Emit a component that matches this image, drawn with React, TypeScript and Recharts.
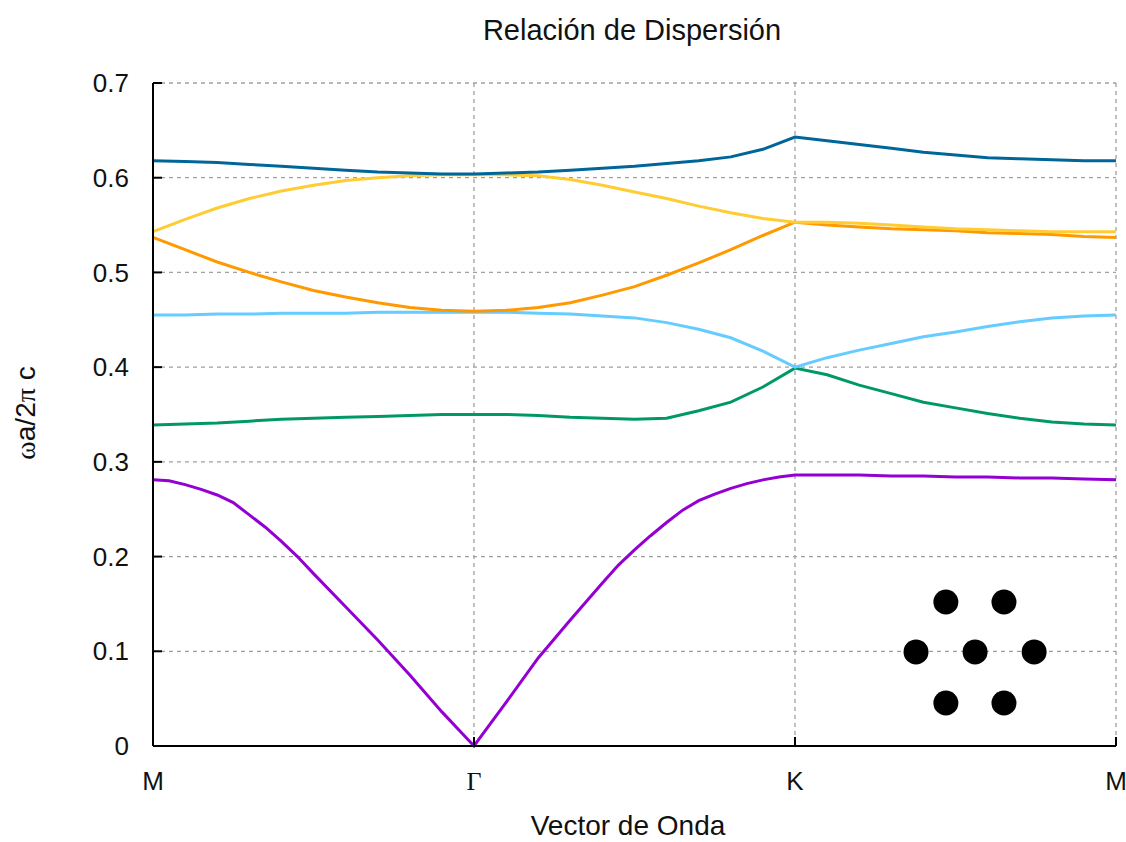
import {
  ComposedChart, Line, Scatter, XAxis, YAxis, CartesianGrid,
} from 'recharts'

// k-path M → Γ → K → M, each segment split in 10 steps
const kPath = [
  0, 0.1, 0.2, 0.3, 0.4, 0.5, 0.6, 0.7, 0.8, 0.9,
  1, 1.1, 1.2, 1.3, 1.4, 1.5, 1.6, 1.7, 1.8, 1.9,
  2, 2.1, 2.2, 2.3, 2.4, 2.5, 2.6, 2.7, 2.8, 2.9, 3,
]

// lowest band has more curvature -> finer sampling
const kPathBand1 = [
  0, 0.05, 0.1, 0.15, 0.2, 0.25, 0.3, 0.35, 0.4, 0.45,
  0.5, 0.6, 0.7, 0.8, 0.9, 1,
  1.1, 1.2, 1.3, 1.4, 1.45, 1.5, 1.55, 1.6, 1.65, 1.7, 1.75, 1.8, 1.85, 1.9, 1.95, 2,
  2.1, 2.2, 2.3, 2.4, 2.5, 2.6, 2.7, 2.8, 2.9, 3,
]
const band1 = [
  0.281, 0.280, 0.276, 0.271, 0.265, 0.257, 0.244, 0.231, 0.216, 0.200,
  0.182, 0.147, 0.112, 0.075, 0.036, 0.000,
  0.046, 0.093, 0.133, 0.172, 0.191, 0.207, 0.222, 0.236, 0.249, 0.259, 0.266, 0.272, 0.277, 0.281, 0.284, 0.286,
  0.286, 0.286, 0.285, 0.285, 0.284, 0.284, 0.283, 0.283, 0.282, 0.281,
]
const band2 = [
  0.339, 0.340, 0.341, 0.343, 0.345, 0.346, 0.347, 0.348, 0.349, 0.350,
  0.350, 0.350, 0.349, 0.347, 0.346, 0.345, 0.346, 0.354, 0.363, 0.379,
  0.399, 0.392, 0.381, 0.372, 0.363, 0.357, 0.351, 0.346, 0.342, 0.340, 0.339,
]
const band3 = [
  0.455, 0.455, 0.456, 0.456, 0.457, 0.457, 0.457, 0.458, 0.458, 0.458,
  0.458, 0.458, 0.457, 0.456, 0.454, 0.452, 0.447, 0.440, 0.431, 0.417,
  0.400, 0.410, 0.418, 0.425, 0.432, 0.437, 0.443, 0.448, 0.452, 0.454, 0.455,
]
const band4 = [
  0.537, 0.524, 0.511, 0.500, 0.490, 0.481, 0.474, 0.468, 0.463, 0.460,
  0.459, 0.460, 0.463, 0.468, 0.476, 0.485, 0.497, 0.510, 0.524, 0.539,
  0.553, 0.550, 0.548, 0.546, 0.545, 0.544, 0.542, 0.541, 0.540, 0.538, 0.537,
]
const band5 = [
  0.543, 0.556, 0.568, 0.578, 0.586, 0.592, 0.597, 0.600, 0.602, 0.603,
  0.603, 0.603, 0.602, 0.598, 0.592, 0.585, 0.578, 0.570, 0.563, 0.557,
  0.553, 0.553, 0.552, 0.550, 0.548, 0.546, 0.545, 0.544, 0.543, 0.543, 0.543,
]
const band6 = [
  0.618, 0.617, 0.616, 0.614, 0.612, 0.610, 0.608, 0.606, 0.605, 0.604,
  0.604, 0.605, 0.606, 0.608, 0.610, 0.612, 0.615, 0.618, 0.622, 0.630,
  0.643, 0.639, 0.635, 0.631, 0.627, 0.624, 0.621, 0.620, 0.619, 0.618, 0.618,
]

const xTicks = [0, 1, 2, 3]
const xTickLabels = ['M', 'Γ', 'K', 'M']
const yTicks = [0, 0.1, 0.2, 0.3, 0.4, 0.5, 0.6, 0.7]
const yTickLabels = ['0', '0.1', '0.2', '0.3', '0.4', '0.5', '0.6', '0.7']

// triangular lattice inset (in axis units)
const latticeDots = [
  { k: 2.47, w: 0.152 }, { k: 2.651, w: 0.152 },
  { k: 2.377, w: 0.0993 }, { k: 2.561, w: 0.0993 }, { k: 2.745, w: 0.0993 },
  { k: 2.47, w: 0.0454 }, { k: 2.651, w: 0.0454 },
]

const band1Color = '#9400d3'
const upperColors = ['#009966', '#66ccff', '#ff9900', '#ffcc33', '#006699']
const upperBands = [band2, band3, band4, band5, band6]

const band1Rows = kPathBand1.map((k, i) => ({ k, b1: band1[i] }))
const rows = kPath.map((k, i) => {
  const r: Record<string, number> = { k }
  upperBands.forEach((b, j) => { r['b' + (j + 2)] = b[i] })
  return r
})

const FONT = '"Liberation Sans", Arial, sans-serif'
const SERIF = '"Liberation Serif", "DejaVu Serif", serif'
const Y_MARGIN = 24
const X_MARGIN = 26

function LeftTick({ x, y, index }: any) {
  return (
    <g>
      <line x1={x + Y_MARGIN} x2={x + Y_MARGIN + 9} y1={y} y2={y} stroke="#000" strokeWidth={2} />
      <text x={x} y={y} dy="0.35em" textAnchor="end" fontSize={26} fontFamily={FONT} fill="#111">
        {yTickLabels[index]}
      </text>
    </g>
  )
}

function RightTick({ x, y }: any) {
  return <line x1={x - 9} x2={x} y1={y} y2={y} stroke="#000" strokeWidth={2} />
}

function BottomTick({ x, y, index }: any) {
  const label = xTickLabels[index]
  return (
    <g>
      <line x1={x} x2={x} y1={y - X_MARGIN - 9} y2={y - X_MARGIN} stroke="#000" strokeWidth={2} />
      <text x={x} y={y} dy="0.71em" textAnchor="middle" fontSize={26}
        fontFamily={label === 'Γ' ? SERIF : FONT} fill="#111">
        {label}
      </text>
    </g>
  )
}

function TopTick({ x, y }: any) {
  return <line x1={x} x2={x} y1={y} y2={y + 9} stroke="#000" strokeWidth={2} />
}

const Dot = (p: any) => <circle cx={p.cx} cy={p.cy} r={12.5} fill="#000" />

export default function App() {
  return (
    <div style={{ position: 'absolute', left: 0, top: 0, width: 1126, height: 842, background: '#fff' }}>
      <ComposedChart
        width={1126}
        height={842}
        data={rows}
        margin={{ top: 83, right: 10, bottom: 0, left: 0 }}
      >
        <CartesianGrid stroke="#a0a0a0" strokeWidth={1.3} strokeDasharray="4 4" />
        <XAxis
          dataKey="k"
          type="number"
          domain={[0, 3]}
          ticks={xTicks}
          height={96}
          tickSize={0}
          tickMargin={X_MARGIN}
          tick={<BottomTick />}
          axisLine={{ stroke: '#000', strokeWidth: 2 }}
          tickLine={false}
          interval={0}
        />
        <XAxis
          xAxisId="top"
          orientation="top"
          type="number"
          domain={[0, 3]}
          ticks={xTicks}
          height={0}
          tickSize={0}
          tickMargin={0}
          tick={<TopTick />}
          axisLine={{ stroke: '#000', strokeWidth: 2 }}
          tickLine={false}
          interval={0}
        />
        <YAxis
          type="number"
          domain={[0, 0.7]}
          ticks={yTicks}
          width={153}
          tickSize={0}
          tickMargin={Y_MARGIN}
          tick={<LeftTick />}
          axisLine={{ stroke: '#000', strokeWidth: 2 }}
          tickLine={false}
          interval={0}
        />
        <YAxis
          yAxisId="right"
          orientation="right"
          type="number"
          domain={[0, 0.7]}
          ticks={yTicks}
          width={0}
          tickSize={0}
          tickMargin={0}
          tick={<RightTick />}
          axisLine={{ stroke: '#000', strokeWidth: 2 }}
          tickLine={false}
          interval={0}
        />
        <Line
          data={band1Rows}
          type="linear"
          dataKey="b1"
          stroke={band1Color}
          strokeWidth={3}
          dot={false}
          activeDot={false}
          isAnimationActive={false}
        />
        {upperColors.map((c, j) => (
          <Line
            key={c}
            type="linear"
            dataKey={'b' + (j + 2)}
            stroke={c}
            strokeWidth={3}
            dot={false}
            activeDot={false}
            isAnimationActive={false}
          />
        ))}
        <Scatter data={latticeDots} dataKey="w" shape={Dot} isAnimationActive={false} />
      </ComposedChart>
      <svg width={1126} height={842} style={{ position: 'absolute', left: 0, top: 0, pointerEvents: 'none' }}>
        <text x={632} y={40} textAnchor="middle" fontSize={29} fontFamily={FONT} fill="#111">
          Relación de Dispersión
        </text>
        <text x={628} y={835} textAnchor="middle" fontSize={28} fontFamily={FONT} fill="#111">
          Vector de Onda
        </text>
        <text transform="translate(35 413) rotate(-90)" textAnchor="middle" fontSize={28} fontFamily={FONT} fill="#111">
          <tspan fontFamily={SERIF}>ω</tspan>a/2<tspan fontFamily={SERIF}>π</tspan> c
        </text>
      </svg>
    </div>
  )
}
